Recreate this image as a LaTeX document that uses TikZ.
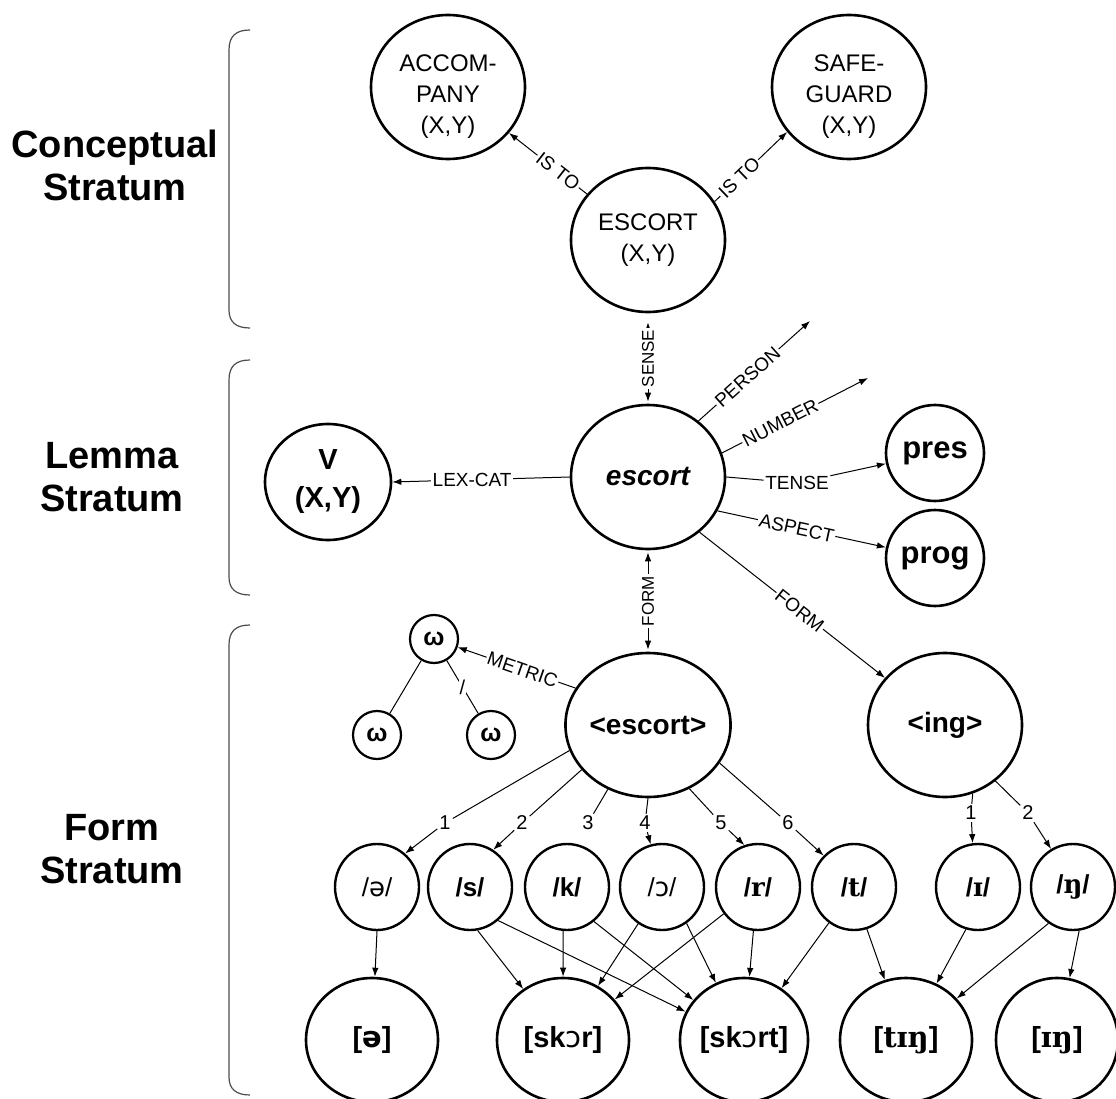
\documentclass[tikz,border=0pt]{standalone}
\usepackage{fontspec}
\setmainfont{Liberation Sans}
\newfontfamily\ipa{DejaVu Sans}
\newfontfamily\ipaser{DejaVu Serif}
\usetikzlibrary{arrows.meta,shapes.geometric}
\newcommand{\sz}[1]{\fontsize{#1}{#1}\selectfont}
\newcommand{\lowtext}[1]{\raisebox{-9pt}[\height][\depth]{\begin{tabular}{@{}c@{}}#1\end{tabular}}}

\begin{document}
\begin{tikzpicture}[
  x=1pt, y=-1pt,
  bigc/.style={draw, ellipse, line width=2.6pt, inner sep=0pt, align=center,
    minimum width=154pt, minimum height=144pt},
  concept/.style={bigc, font=\fontsize{24}{31}\selectfont},
  feat/.style={draw, ellipse, line width=2.6pt, inner sep=0pt,
    minimum width=98pt, minimum height=96pt, font=\sz{31}\bfseries},
  phon/.style={draw, ellipse, line width=2.4pt, inner sep=0pt,
    minimum width=84pt, minimum height=86pt, font=\sz{26}\bfseries},
  surf/.style={draw, ellipse, line width=2.6pt, inner sep=0pt,
    minimum width=132pt, minimum height=124pt, font=\sz{29}\bfseries},
  foot/.style={draw, circle, line width=2.2pt, inner sep=0pt,
    minimum size=48pt, font=\sz{25}\bfseries},
  stratum/.style={align=center, font=\fontsize{38}{43}\selectfont\bfseries},
  elab/.style={font=\sz{19}, fill=white, inner sep=1.5pt},
  num/.style={font=\sz{20}, fill=white, inner sep=2pt},
  edge/.style={line width=1pt},
  arr/.style={-{Latex[length=9pt,width=6.5pt]}, line width=1pt},
  biarr/.style={{Latex[length=9pt,width=6.5pt]}-{Latex[length=9pt,width=6.5pt]}, line width=1pt},
  brace/.style={line width=1.2pt, black!70}
]
\useasboundingbox (0,0) rectangle (1116,1099);

% ---------- Strata ----------
\node[stratum] (sconc) at (115,165) {Conceptual\\Stratum};
\node[stratum] (slem)  at (112,477) {Lemma\\Stratum};
\node[stratum] (sform) at (112,849) {Form\\Stratum};
\draw[brace] (250,30) .. controls (236,30) and (229,36) .. (229,50) -- (229,310)
  .. controls (229,322) and (236,328) .. (250,328);
\draw[brace] (250,360) .. controls (236,360) and (229,366) .. (229,380) -- (229,577)
  .. controls (229,589) and (236,595) .. (250,595);
\draw[brace] (250,625) .. controls (236,625) and (229,631) .. (229,645) -- (229,1077)
  .. controls (229,1089) and (236,1095) .. (250,1095);

% ---------- Conceptual stratum ----------
\node[concept] (accomp)  at (448,87)  {\lowtext{ACCOM-\\PANY\\(X,Y)}};
\node[concept] (safeg)   at (849,87)  {\lowtext{SAFE-\\GUARD\\(X,Y)}};
\node[concept] (concept) at (648,240) {ESCORT\\(X,Y)};
\draw[arr] (concept.143) -- node[elab, sloped, pos=0.37]{IS TO} (accomp.-37);
\draw[arr] (concept.30)  -- node[elab, sloped, pos=0.34]{IS TO} (safeg.216);

% ---------- Lemma stratum ----------
\node[bigc, font=\sz{28}\bfseries\itshape] (lem) at (648,477) {escort};
\node[bigc, minimum width=126pt, minimum height=116pt,
  font=\fontsize{29}{38}\selectfont\bfseries] (cat) at (328,482) {V\\(X,Y)};
\node[feat] (pres) at (935,453) {pres};
\node[feat] (prog) at (935,558) {prog};
\coordinate (person) at (810,321);
\coordinate (number) at (868,378);
\node[elab] (tense) at (797,483) {TENSE};

\draw[biarr, shorten <=9pt, shorten >=2pt] (concept.south) -- node[elab, font=\sz{17}, rotate=90]{SENSE} (lem.north);
\draw[arr] (lem.west) -- node[elab, pos=0.55]{LEX-CAT} (cat.east);
\draw[arr] (lem.48) -- node[elab, sloped, pos=0.44]{PERSON} (person);
\draw[arr] (lem.18) -- node[elab, sloped, pos=0.40]{NUMBER} (number);
\draw[edge] (lem.east) -- (tense);
\draw[arr] (tense) -- (pres);
\draw[arr] (lem.-26) -- node[elab, sloped, pos=0.47]{ASPECT} (prog);

% ---------- Form stratum ----------
\node[bigc, font=\sz{28}\bfseries] (lex)   at (648,725) {<escort>};
\node[bigc, font=\sz{28}\bfseries] (morph) at (945,725) {<ing>};
\draw[biarr, shorten <=2pt, shorten >=2pt] (lem.south) -- node[elab, font=\sz{17}, rotate=90]{FORM} (lex.north);
\draw[arr] (lem.-47) -- node[elab, sloped, pos=0.54]{FORM} (morph);

% metrical frame
\node[foot] (wt) at (434,639) {ω};
\node[foot] (wl) at (377,735) {ω};
\node[foot] (wr) at (491,735) {ω};
\draw[edge] (wt) -- (wl);
\draw[edge] (wt) -- node[fill=white, inner sep=0.5pt, font=\sz{20}]{/} (wr);
\draw[arr] (lex.153) -- node[elab, sloped, pos=0.45]{METRIC} (wt);

% segments
\node[phon] (p1) at (377,887)  {\mdseries/{\ipa ə}/};
\node[phon] (p2) at (470,887)  {/s/};
\node[phon] (p3) at (567,887)  {/k/};
\node[phon] (p4) at (662,887)  {\mdseries/{\ipa ɔ}/};
\node[phon] (p5) at (758,887)  {/{\ipaser r}/};
\node[phon] (p6) at (854,887)  {/{\ipaser t}/};
\node[phon] (q1) at (978,887)  {/{\ipaser ɪ}/};
\node[phon] (q2) at (1073,887) {/{\ipaser ŋ}/};

\node[num] (n1) at (445,823) {1};
\node[num] (n2) at (522,823) {2};
\node[num] (n3) at (588,823) {3};
\node[num] (n4) at (645,823) {4};
\node[num] (n5) at (721,823) {5};
\node[num] (n6) at (788,823) {6};
\node[num] (m1) at (971,813) {1};
\node[num] (m2) at (1028,813) {2};

\draw[edge] (lex.198) -- (n1);  \draw[arr] (n1) -- (p1.50);
\draw[edge] (lex.214) -- (n2);  \draw[arr] (n2) -- (p2.58);
\draw[edge] (lex.238) -- (n3);
\draw[edge] (lex.south) -- (n4); \draw[arr] (n4) -- (p4.105);
\draw[edge] (lex.-57) -- (n5);  \draw[arr] (n5) -- (p5.108);
\draw[edge] (lex.-28) -- (n6);  \draw[arr] (n6) -- (p6.134);
\draw[edge] (morph.-68) -- (m1); \draw[arr] (m1) -- (q1.97);
\draw[edge] (morph.-48) -- (m2); \draw[arr] (m2) -- (q2.120);

% syllables
\node[surf] (b1) at (372,1040)  {[{\ipa ə}]};
\node[surf] (b2) at (563,1040)  {[sk{\ipa\mdseries ɔ}r]};
\node[surf, minimum width=128pt] (b3) at (744,1040) {[sk{\ipa\mdseries ɔ}rt]};
\node[surf] (b4) at (906,1040)  {[{\ipaser tɪŋ}]};
\node[surf, minimum width=122pt] (b5) at (1057,1040) {[{\ipaser ɪŋ}]};

\draw[arr] (p1.south) -- (b1);
\draw[arr] (p2.-80)  -- (b2);
\draw[arr] (p2.-50)  -- (b3);
\draw[arr] (p3.-95)  -- (b2);
\draw[arr] (p3.-52)  -- (b3);
\draw[arr] (p4.-123) -- (b2);
\draw[arr] (p4.-56)  -- (b3);
\draw[arr] (p5.-142) -- (b2);
\draw[arr] (p5.-96)  -- (b3);
\draw[arr] (p6.-125) -- (b3);
\draw[arr] (p6.-73)  -- (b4);
\draw[arr] (q1.-106) -- (b4);
\draw[arr] (q2.-124) -- (b4);
\draw[arr] (q2.-82)  -- (b5);
\end{tikzpicture}
\end{document}
